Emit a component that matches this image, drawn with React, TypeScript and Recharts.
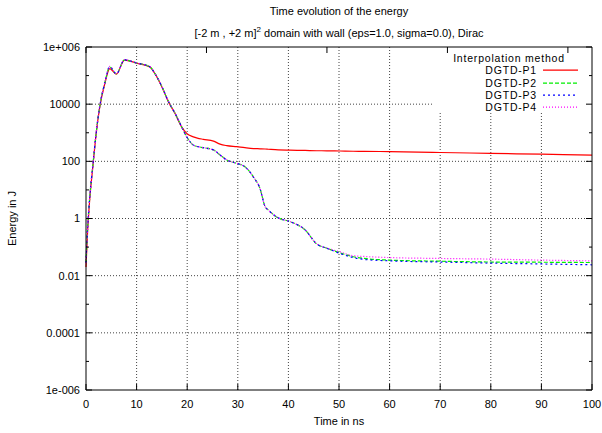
import { LineChart, Line, XAxis, YAxis, ReferenceLine, Legend } from 'recharts'

// time in ns
const TIME = [0, 0.3, 0.7, 1.4, 2, 2.7, 3.7, 4.7, 6, 7.6, 10, 12.6, 13.6, 15, 16.3, 17.6, 18.9, 19.9, 21.2, 22, 23.2, 25.2, 26.5, 27.8, 29.8, 31.4, 33.1, 34.4, 35.4, 36, 38, 40.3, 43.3, 45.6, 47.6, 50.2, 52.8, 55, 60, 70, 80, 90, 100]

// energy in J
const P1 = [0.02, 0.3, 3.8, 78, 900, 7600, 50000, 174000, 112000, 350000, 272000, 202000, 118000, 40000, 12000, 4700, 1600,
  950, 720, 650, 590, 510, 400, 355, 325, 300, 280, 275, 270, 265, 250, 245, 240, 235, 234, 230, 225, 224, 219, 204, 190, 178, 166]
const P2 = [0.028, 0.4, 4.5, 87, 950, 8100, 54000, 200000, 115000, 355000, 275000, 204000, 120000, 41000, 12300, 4800, 1620,
  725, 370, 330, 300, 250, 166, 112, 85, 65, 28, 11, 2.6, 2.0, 1.05, 0.78, 0.40, 0.129, 0.091, 0.063, 0.046, 0.040, 0.035, 0.032, 0.030, 0.0295, 0.0288]
const P3 = [0.028, 0.4, 4.5, 87, 950, 8100, 54000, 202000, 115000, 355000, 275000, 204000, 120000, 41000, 12300, 4800, 1620,
  725, 370, 330, 300, 250, 166, 112, 85, 65, 28, 11, 2.6, 2.0, 1.05, 0.78, 0.40, 0.129, 0.091, 0.060, 0.043, 0.037, 0.033, 0.030, 0.0275, 0.0257, 0.024]
const P4 = [0.028, 0.4, 4.6, 88, 960, 8200, 55000, 210000, 116000, 360000, 277000, 205000, 121000, 41000, 12300, 4800, 1620,
  725, 370, 330, 300, 250, 166, 112, 85, 65, 28, 11, 2.6, 2.0, 1.05, 0.78, 0.40, 0.13, 0.093, 0.068, 0.050, 0.047, 0.043, 0.040, 0.038, 0.035, 0.033]

const X_TICKS = [0, 10, 20, 30, 40, 50, 60, 70, 80, 90, 100]
const Y_TICKS = [1e-6, 1e-5, 1e-4, 1e-3, 1e-2, 1e-1, 1, 10, 100, 1000, 1e4, 1e5, 1e6]
const Y_LABELS: Record<number, string> = { [-6]: '1e-006', [-4]: '0.0001', [-2]: '0.01', 0: '1', 2: '100', 4: '10000', 6: '1e+006' }
const X_GRID = [10, 20, 30, 40, 50, 60]
const X_GRID_SHORT = [70, 80, 90]
const Y_GRID = [1e-4, 1e-2, 1, 100]
const Y_GRID_SHORT = [1e4]

// corner kept clear for the key
const KEY_X = 68.6
const KEY_Y = 5400

const SERIES = [
  { key: 'p1', name: 'DGTD-P1', color: '#ff0000', dash: undefined },
  { key: 'p2', name: 'DGTD-P2', color: '#00ee00', dash: '4 2' },
  { key: 'p3', name: 'DGTD-P3', color: '#0000ff', dash: '2 3' },
  { key: 'p4', name: 'DGTD-P4', color: '#ff00ff', dash: '1 2' },
]

const data = TIME.map((t, i) => ({ t, p1: P1[i], p2: P2[i], p3: P3[i], p4: P4[i] }))

const FONT = '"Liberation Sans", Arial, sans-serif'
const GRID = { stroke: '#444', strokeDasharray: '1 2', strokeWidth: 1 }
const ROW = 12.3

const exp10 = (v: number) => Math.round(Math.log10(v))

const YTickLeft = ({ x, y, payload }: any) => {
  const e = exp10(payload.value)
  const lbl = Y_LABELS[e]
  return (
    <g>
      <line x1={x} y1={y} x2={x + (lbl ? 6 : 3)} y2={y} stroke="#000" />
      {lbl && <text x={x - 6} y={y} dy="0.35em" textAnchor="end" fontSize={11} fontFamily={FONT} fill="#000">{lbl}</text>}
    </g>
  )
}

const YTickRight = ({ x, y, payload }: any) => {
  const lbl = Y_LABELS[exp10(payload.value)]
  return <line x1={x} y1={y} x2={x - (lbl ? 6 : 3)} y2={y} stroke="#000" />
}

const XTickBottom = ({ x, y, payload }: any) => (
  <g>
    <line x1={x} y1={y} x2={x} y2={y - 6} stroke="#000" />
    <text x={x} y={y + 14} dy="0.35em" textAnchor="middle" fontSize={11} fontFamily={FONT} fill="#000">{payload.value}</text>
  </g>
)

const XTickTop = ({ x, y }: any) => <line x1={x} y1={y} x2={x} y2={y + 6} stroke="#000" />

const KeyBox = ({ payload }: any) => (
  <div style={{ fontFamily: FONT, fontSize: 10.5, letterSpacing: '0.8px', color: '#000', lineHeight: ROW + 'px' }}>
    <div style={{ width: 128, height: ROW, textAlign: 'center' }}>Interpolation method</div>
    {(payload || []).map((p: any, i: number) => {
      const s = SERIES.find(d => d.key === p.dataKey) || SERIES[i]
      return (
        <div key={s.key} style={{ display: 'flex', alignItems: 'center', height: ROW }}>
          <span style={{ width: 92, textAlign: 'right' }}>{s.name}</span>
          <svg width={40} height={ROW} style={{ marginLeft: 6 }}>
            <line x1={0} y1={6.2} x2={35} y2={6.2} stroke={s.color} strokeDasharray={s.dash} strokeWidth={1.2} />
          </svg>
        </div>
      )
    })}
  </div>
)

export default function App() {
  return (
    <div style={{ position: 'absolute', left: 0, top: 0, width: 602, height: 433, background: '#fff', fontFamily: FONT }}>
      <div style={{ position: 'absolute', left: 86, width: 506, top: 5, textAlign: 'center', fontSize: 11 }}>
        Time evolution of the energy
      </div>
      <div style={{ position: 'absolute', left: 86, width: 506, top: 25, textAlign: 'center', fontSize: 11 }}>
        [-2 m , +2 m]<sup style={{ fontSize: 8 }}>2</sup> domain with wall (eps=1.0, sigma=0.0), Dirac
      </div>
      <LineChart width={602} height={433} data={data} margin={{ top: 46, right: 0, bottom: 0, left: 0 }}>
        <XAxis dataKey="t" type="number" domain={[0, 100]} ticks={X_TICKS} interval={0}
          tick={(p: any) => <XTickBottom {...p} />} tickLine={false} tickSize={0} tickMargin={0}
          axisLine={{ stroke: '#000' }} height={43}
          label={{ value: 'Time in ns', position: 'insideBottom', offset: 8, fontSize: 11, fontFamily: FONT, fill: '#000' }} />
        <XAxis xAxisId="top" orientation="top" type="number" domain={[0, 100]} ticks={X_TICKS} interval={0}
          tick={(p: any) => <XTickTop {...p} />} tickLine={false} tickSize={0} tickMargin={0}
          axisLine={{ stroke: '#000' }} height={1} />
        <YAxis type="number" scale="log" domain={[1e-6, 1e6]} ticks={Y_TICKS} interval={0} allowDataOverflow
          tick={(p: any) => <YTickLeft {...p} />} tickLine={false} tickSize={0} tickMargin={0}
          axisLine={{ stroke: '#000' }} width={86}
          label={{ value: 'Energy in J', angle: -90, position: 'insideLeft', offset: 12, fontSize: 11, fontFamily: FONT, fill: '#000', style: { textAnchor: 'middle' } }} />
        <YAxis yAxisId="right" orientation="right" type="number" scale="log" domain={[1e-6, 1e6]} ticks={Y_TICKS} interval={0} allowDataOverflow
          tick={(p: any) => <YTickRight {...p} />} tickLine={false} tickSize={0} tickMargin={0}
          axisLine={{ stroke: '#000' }} width={10} />

        {X_GRID.map(v => <ReferenceLine key={'x' + v} x={v} {...GRID} />)}
        {X_GRID_SHORT.map(v => (
          <ReferenceLine key={'xs' + v} segment={[{ x: v, y: 1e-6 }, { x: v, y: KEY_Y }]} {...GRID} />
        ))}
        {Y_GRID.map(v => <ReferenceLine key={'y' + v} y={v} {...GRID} />)}
        {Y_GRID_SHORT.map(v => (
          <ReferenceLine key={'ys' + v} segment={[{ x: 0, y: v }, { x: KEY_X, y: v }]} {...GRID} />
        ))}

        <Legend layout="vertical" align="center" verticalAlign="middle" content={(p: any) => <KeyBox {...p} />}
          wrapperStyle={{ left: 445, top: 52, width: 150, height: 'auto' }} />

        {SERIES.map(s => (
          <Line key={s.key} type="monotone" dataKey={s.key} name={s.name} stroke={s.color}
            strokeDasharray={s.dash} strokeWidth={1.2} dot={false} activeDot={false} isAnimationActive={false} />
        ))}
      </LineChart>
    </div>
  )
}
